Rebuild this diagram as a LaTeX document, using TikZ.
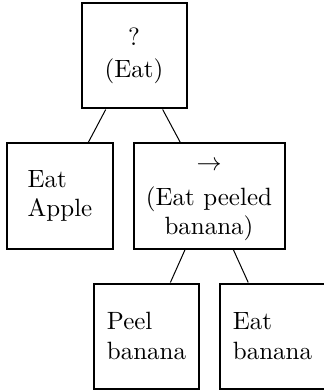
\documentclass[tikz,border=0pt]{standalone}
\usepackage{tikz}
\usetikzlibrary{positioning}

\begin{document}
\begin{tikzpicture}[
    x=0.4pt, y=-0.4pt,
    box/.style={rectangle, draw, line width=0.8pt, minimum width=42pt, minimum height=42pt, inner sep=0pt, align=center, font=\fontsize{10pt}{11.8pt}\selectfont},
    leafbox/.style={box, align=left},
    widebox/.style={box, minimum width=60.4pt},
    edge/.style={line width=0.4pt}
]
    \useasboundingbox (0,0) rectangle (323,392);

    % Root: fallback
    \node[box] (eat) at (134,56) {?\\[1pt](Eat)};

    % Second level
    \node[leafbox] (apple) at (60,196) {Eat\\Apple};
    \node[widebox] (peeled) at (209,196) {\rule{0pt}{8pt}$\rightarrow$\\[2pt](Eat peeled\\banana)};

    % Third level: sequence
    \node[leafbox] (peel) at (146.5,336) {Peel\\banana};
    \node[leafbox] (banana) at (272.5,336) {Eat\\banana};

    \draw[edge] (eat) -- (apple);
    \draw[edge] (eat) -- (peeled);
    \draw[edge] (peeled) -- (peel);
    \draw[edge] (peeled) -- (banana);

\end{tikzpicture}
\end{document}
